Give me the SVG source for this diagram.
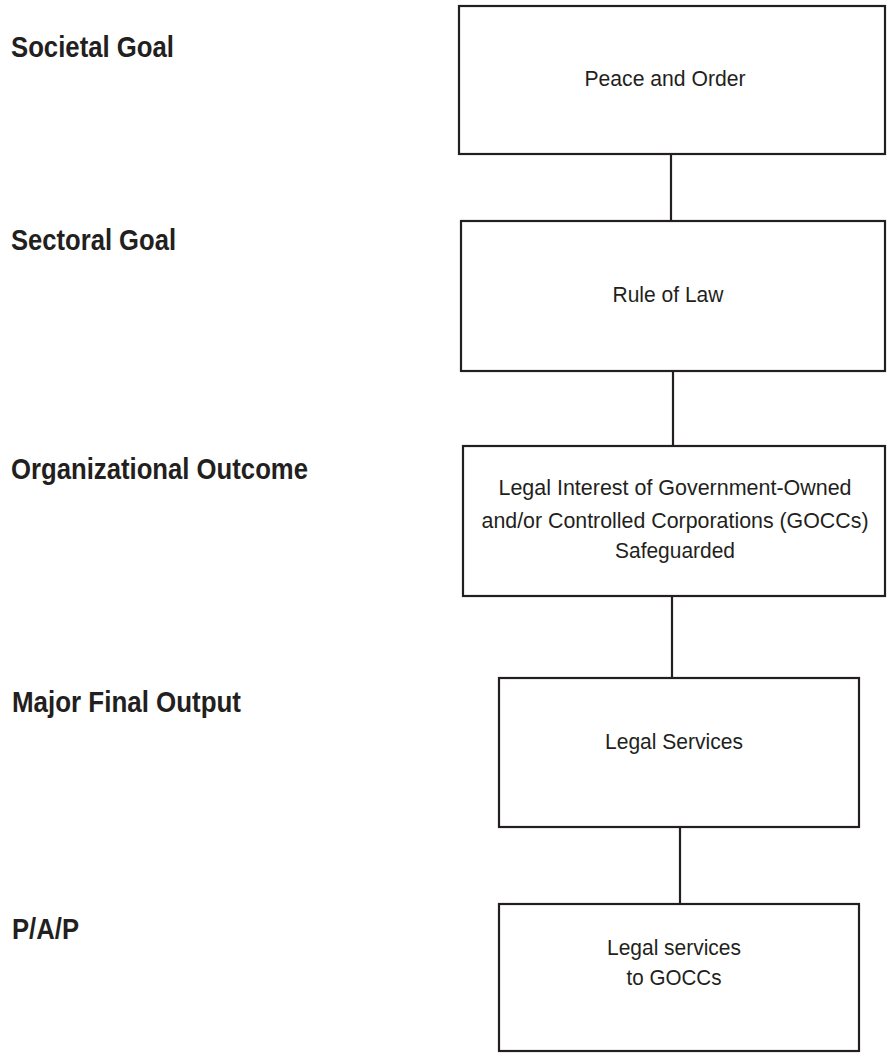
<svg xmlns="http://www.w3.org/2000/svg" width="887" height="1053" viewBox="0 0 887 1053">
<style>
.box{fill:#fff;stroke:#231f20;stroke-width:2.2}
.con{stroke:#231f20;stroke-width:2.2;fill:none}
.lbl{font-family:"Liberation Sans",Arial,sans-serif;font-weight:bold;font-size:30px;fill:#231f20}
.txt{font-family:"Liberation Sans",Arial,sans-serif;font-size:22px;fill:#231f20;text-anchor:middle}
</style>
<rect width="887" height="1053" fill="#fff"/>
<g id="labels">
<text class="lbl" x="11" y="57" textLength="163" lengthAdjust="spacingAndGlyphs">Societal Goal</text>
<text class="lbl" x="11" y="250" textLength="165" lengthAdjust="spacingAndGlyphs">Sectoral Goal</text>
<text class="lbl" x="11" y="479" textLength="297" lengthAdjust="spacingAndGlyphs">Organizational Outcome</text>
<text class="lbl" x="12" y="712" textLength="229" lengthAdjust="spacingAndGlyphs">Major Final Output</text>
<text class="lbl" x="12" y="939" textLength="67" lengthAdjust="spacingAndGlyphs">P/A/P</text>
</g>
<g id="connectors">
<line class="con" x1="671" y1="154" x2="671" y2="221"/>
<line class="con" x1="673" y1="371" x2="673" y2="446"/>
<line class="con" x1="672" y1="596" x2="672" y2="678"/>
<line class="con" x1="680" y1="827" x2="680" y2="904"/>
</g>
<g id="n1">
<rect class="box" x="459" y="6" width="426" height="148"/>
<text class="txt" x="665" y="86" textLength="161" lengthAdjust="spacingAndGlyphs">Peace and Order</text>
</g>
<g id="n2">
<rect class="box" x="461" y="221" width="424" height="150"/>
<text class="txt" x="668" y="302" textLength="111" lengthAdjust="spacingAndGlyphs">Rule of Law</text>
</g>
<g id="n3">
<rect class="box" x="463" y="446" width="422" height="150"/>
<text class="txt" x="675" y="495" textLength="353" lengthAdjust="spacingAndGlyphs">Legal Interest of Government-Owned</text>
<text class="txt" x="675" y="528" textLength="387" lengthAdjust="spacingAndGlyphs">and/or Controlled Corporations (GOCCs)</text>
<text class="txt" x="675" y="558" textLength="120" lengthAdjust="spacingAndGlyphs">Safeguarded</text>
</g>
<g id="n4">
<rect class="box" x="499" y="678" width="360" height="149"/>
<text class="txt" x="674" y="749" textLength="138" lengthAdjust="spacingAndGlyphs">Legal Services</text>
</g>
<g id="n5">
<rect class="box" x="499" y="904" width="360" height="147"/>
<text class="txt" x="674" y="955" textLength="134" lengthAdjust="spacingAndGlyphs">Legal services</text>
<text class="txt" x="674" y="985" textLength="95" lengthAdjust="spacingAndGlyphs">to GOCCs</text>
</g>
</svg>
